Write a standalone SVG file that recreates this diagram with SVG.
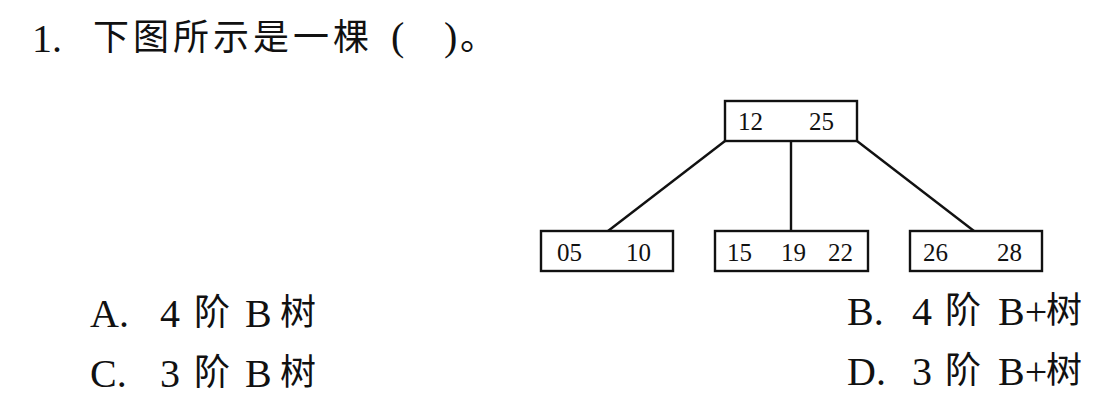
<svg xmlns="http://www.w3.org/2000/svg" width="1120" height="407" viewBox="0 0 1120 407">
<style>
.lat{font-family:"Liberation Serif","Noto Sans CJK SC",serif;font-size:40px;fill:#111}
.cjk{font-family:"Noto Sans CJK SC",sans-serif;font-size:36px;fill:#111}
.num{font-family:"Liberation Serif",serif;font-size:25px;fill:#111}
.box{fill:#fff;stroke:#111;stroke-width:2.4}
.edge{stroke:#111;stroke-width:2.4;fill:none}
</style>
<rect width="1120" height="407" fill="#fff"/>
<g id="question">
<text class="lat" x="32" y="52">1.</text>
<text class="cjk" x="93" y="50" letter-spacing="4">下图所示是一棵</text>
<text class="lat" x="391" y="50">(</text>
<text class="lat" x="444" y="50">)</text>
<text class="cjk" x="460" y="50">。</text>
</g>
<g id="connectors">
<line class="edge" x1="725" y1="141" x2="608" y2="231"/>
<line class="edge" x1="791" y1="141" x2="791" y2="231"/>
<line class="edge" x1="857" y1="141" x2="974" y2="231"/>
</g>
<g id="root">
<rect class="box" x="725" y="101" width="132" height="40"/>
<text class="num" x="738" y="130">12</text>
<text class="num" x="809" y="130">25</text>
</g>
<g id="leaf1">
<rect class="box" x="541" y="231" width="132" height="40"/>
<text class="num" x="557" y="261">05</text>
<text class="num" x="626" y="261">10</text>
</g>
<g id="leaf2">
<rect class="box" x="715" y="231" width="153" height="40"/>
<text class="num" x="727" y="261">15</text>
<text class="num" x="781" y="261">19</text>
<text class="num" x="828" y="261">22</text>
</g>
<g id="leaf3">
<rect class="box" x="910" y="231" width="132" height="40"/>
<text class="num" x="923" y="261">26</text>
<text class="num" x="997" y="261">28</text>
</g>
<g id="options">
<text class="lat" x="90" y="327">A.</text>
<text class="lat" x="160" y="327">4</text>
<text class="cjk" x="194" y="325">阶</text>
<text class="lat" x="245" y="327">B</text>
<text class="cjk" x="280" y="325">树</text>
<text class="lat" x="90" y="387">C.</text>
<text class="lat" x="160" y="387">3</text>
<text class="cjk" x="194" y="385">阶</text>
<text class="lat" x="245" y="387">B</text>
<text class="cjk" x="280" y="385">树</text>
<text class="lat" x="847" y="325">B.</text>
<text class="lat" x="912" y="325">4</text>
<text class="cjk" x="945" y="323">阶</text>
<text class="lat" x="998" y="325">B+</text>
<text class="cjk" x="1046" y="323">树</text>
<text class="lat" x="847" y="385">D.</text>
<text class="lat" x="912" y="385">3</text>
<text class="cjk" x="945" y="383">阶</text>
<text class="lat" x="998" y="385">B+</text>
<text class="cjk" x="1046" y="383">树</text>
</g>
</svg>
